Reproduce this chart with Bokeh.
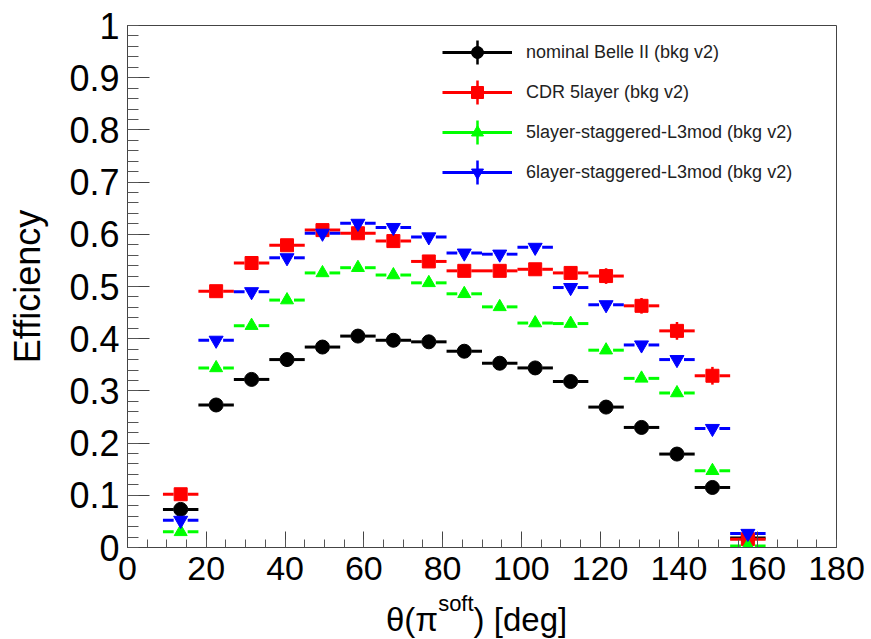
import numpy as np
from bokeh.plotting import figure
from bokeh.layouts import column
from bokeh.models import (ColumnDataSource, FixedTicker, Legend, LegendItem,
                          Range1d, Div)
from bokeh.embed import file_html
from bokeh.resources import INLINE

# ---------------- data ----------------
theta_centers = [13.5, 22.5, 31.5, 40.5, 49.5, 58.5, 67.5, 76.5, 85.5,
                 94.5, 103.5, 112.5, 121.5, 130.5, 139.5, 148.5, 157.5]
bin_half_width = 4.5

eff_nominal = [0.073, 0.273, 0.322, 0.360, 0.384, 0.405, 0.397, 0.394, 0.376,
               0.353, 0.344, 0.318, 0.269, 0.230, 0.179, 0.115, 0.018]
err_nominal = [0.006, 0.005, 0.005, 0.005, 0.005, 0.005, 0.005, 0.005, 0.005,
               0.005, 0.005, 0.005, 0.006, 0.006, 0.006, 0.007, 0.006]

eff_cdr5 = [0.102, 0.491, 0.545, 0.579, 0.608, 0.602, 0.587, 0.548, 0.530,
            0.530, 0.533, 0.526, 0.520, 0.463, 0.415, 0.329, 0.016]
err_cdr5 = [0.008, 0.008, 0.008, 0.008, 0.008, 0.008, 0.008, 0.008, 0.008,
            0.008, 0.009, 0.012, 0.015, 0.015, 0.017, 0.017, 0.008]

eff_5stag = [0.030, 0.344, 0.425, 0.474, 0.526, 0.536, 0.522, 0.507, 0.486,
             0.461, 0.430, 0.429, 0.378, 0.324, 0.296, 0.147, 0.003]
err_5stag = [0.005, 0.006, 0.006, 0.006, 0.006, 0.006, 0.006, 0.006, 0.006,
             0.006, 0.006, 0.006, 0.006, 0.006, 0.006, 0.006, 0.004]

eff_6stag = [0.052, 0.397, 0.490, 0.555, 0.602, 0.621, 0.613, 0.595, 0.564,
             0.562, 0.575, 0.498, 0.465, 0.388, 0.360, 0.228, 0.027]
err_6stag = [0.006, 0.006, 0.006, 0.006, 0.006, 0.006, 0.006, 0.006, 0.006,
             0.006, 0.006, 0.006, 0.006, 0.006, 0.006, 0.006, 0.006]

series_names = ["nominal Belle II (bkg v2)", "CDR 5layer (bkg v2)",
                "5layer-staggered-L3mod (bkg v2)", "6layer-staggered-L3mod (bkg v2)"]

x_ticks = [0, 20, 40, 60, 80, 100, 120, 140, 160, 180]
x_tick_labels = ["0", "20", "40", "60", "80", "100", "120", "140", "160", "180"]
y_ticks = [0, 0.1, 0.2, 0.3, 0.4, 0.5, 0.6, 0.7, 0.8, 0.9, 1.0]
y_tick_labels = ["0", "0.1", "0.2", "0.3", "0.4", "0.5", "0.6", "0.7", "0.8", "0.9", "1"]

x_title_main = "θ(π"
x_title_sup = "soft"
x_title_end = ") [deg]"
y_title = "Efficiency"

# ---------------- layout ----------------
W, H = 871, 639
DIV_H = 39
PH = H - DIV_H
LEFT, RIGHT, TOP, BOTTOM = 127, 35, 25, 53
FONT = "Liberation Sans"

p = figure(width=W, height=PH, output_backend="svg", toolbar_location=None,
           x_range=Range1d(0, 180), y_range=Range1d(0, 1),
           min_border_left=LEFT, min_border_right=RIGHT,
           min_border_top=TOP, min_border_bottom=BOTTOM,
           background_fill_color="white", border_fill_color="white")
p.grid.visible = False
p.outline_line_color = "#444444"
p.outline_line_width = 1
# range used only by legend-sample renderers (keeps them off the frame)
p.extra_y_ranges = {"legend_only": Range1d(10, 11)}

p.xaxis.ticker = FixedTicker(ticks=x_ticks, minor_ticks=list(range(0, 181, 5)))
p.yaxis.ticker = FixedTicker(ticks=y_ticks,
                             minor_ticks=[round(i * 0.02, 2) for i in range(51)])
p.xaxis.major_label_overrides = dict(zip(x_ticks, x_tick_labels))
p.yaxis.major_label_overrides = dict(zip(y_ticks, y_tick_labels))

for ax in (p.xaxis[0], p.yaxis[0]):
    ax.axis_line_color = "#444444"
    ax.major_tick_line_color = "#444444"
    ax.minor_tick_line_color = "#555555"
    ax.major_tick_out = 0
    ax.minor_tick_out = 0
    ax.major_label_text_font = FONT
    ax.major_label_text_color = "black"

p.xaxis.major_tick_in = 16
p.xaxis.minor_tick_in = 8
p.yaxis.major_tick_in = 22
p.yaxis.minor_tick_in = 11
p.xaxis.major_label_text_font_size = "34px"
p.yaxis.major_label_text_font_size = "36px"
p.xaxis.major_label_standoff = 9
p.yaxis.major_label_standoff = 8

p.yaxis.axis_label = y_title
p.yaxis.axis_label_text_font = FONT
p.yaxis.axis_label_text_font_size = "36px"
p.yaxis.axis_label_text_font_style = "normal"
p.yaxis.axis_label_text_color = "black"
p.yaxis.axis_label_standoff = 18

# ---------------- series ----------------
px_per_deg = (W - LEFT - RIGHT) / 180.0
gap_deg = 7.0 / px_per_deg

styles = [("black", "circle", 14), ("#ff0000", "square", 13),
          ("#00ff00", "triangle", 13), ("#0000ff", "inverted_triangle", 14)]
effs = [eff_nominal, eff_cdr5, eff_5stag, eff_6stag]
errs = [err_nominal, err_cdr5, err_5stag, err_6stag]

legend_items = []
cross_renderers = []
for name, eff, err, (color, marker, size) in zip(series_names, effs, errs, styles):
    x = np.array(theta_centers, dtype=float)
    y = np.array(eff, dtype=float)
    e = np.array(err, dtype=float)
    src = ColumnDataSource(dict(x=x, y=y,
                                xl0=x - bin_half_width, xl1=x - gap_deg,
                                xr0=x + gap_deg, xr1=x + bin_half_width,
                                y0=y - e, y1=y + e))
    seg_l = p.segment("xl0", "y", "xl1", "y", source=src, line_color=color, line_width=3)
    p.segment("xr0", "y", "xr1", "y", source=src, line_color=color, line_width=3)
    p.segment("x", "y0", "x", "y1", source=src, line_color=color, line_width=2.5)
    sc = p.scatter("x", "y", source=src, marker=marker, size=size,
                   fill_color=color, line_color=color)
    legend_items.append(LegendItem(label=name, renderers=[seg_l, sc]))
    # legend-only renderer giving the vertical error bar of the legend sample
    cr = p.scatter("x", "y", source=src, y_range_name="legend_only",
                   marker="cross", size=24, line_color=color, line_width=2.5)
    cross_renderers.append(cr)

frame_bottom = PH - BOTTOM
row_centers = [52, 92, 132, 172]
for cr, c in zip(cross_renderers, row_centers):
    lg = Legend(items=[LegendItem(label=" ", renderers=[cr])],
                location=(477 - LEFT - 30, frame_bottom - (c + 30)),
                glyph_width=60, glyph_height=60, padding=0, margin=0, spacing=0,
                border_line_alpha=0, background_fill_alpha=0,
                label_text_font_size="1px")
    p.add_layout(lg)

legend = Legend(items=legend_items, location=(442 - LEFT, frame_bottom - 187),
                glyph_width=70, glyph_height=30, spacing=10, padding=0, margin=0,
                label_standoff=14, label_text_font=FONT, label_text_font_size="18px",
                label_text_color="#222222", label_height=30,
                border_line_alpha=0, background_fill_alpha=0)
p.add_layout(legend)

title_html = (
    '<div style="margin-left:386px; margin-top:3px; height:33px; line-height:33px; '
    'font-family:\'Liberation Sans\'; font-size:33px; color:black; white-space:nowrap;">'
    + x_title_main
    + '<span style="font-size:22px; vertical-align:20px; line-height:0;">'
    + x_title_sup + '</span>' + x_title_end + '</div>'
)
div = Div(text=title_html, width=W, height=DIV_H, margin=(0, 0, 0, 0))

layout = column(p, div, spacing=0)
open("out.html", "w").write(file_html(layout, INLINE))
